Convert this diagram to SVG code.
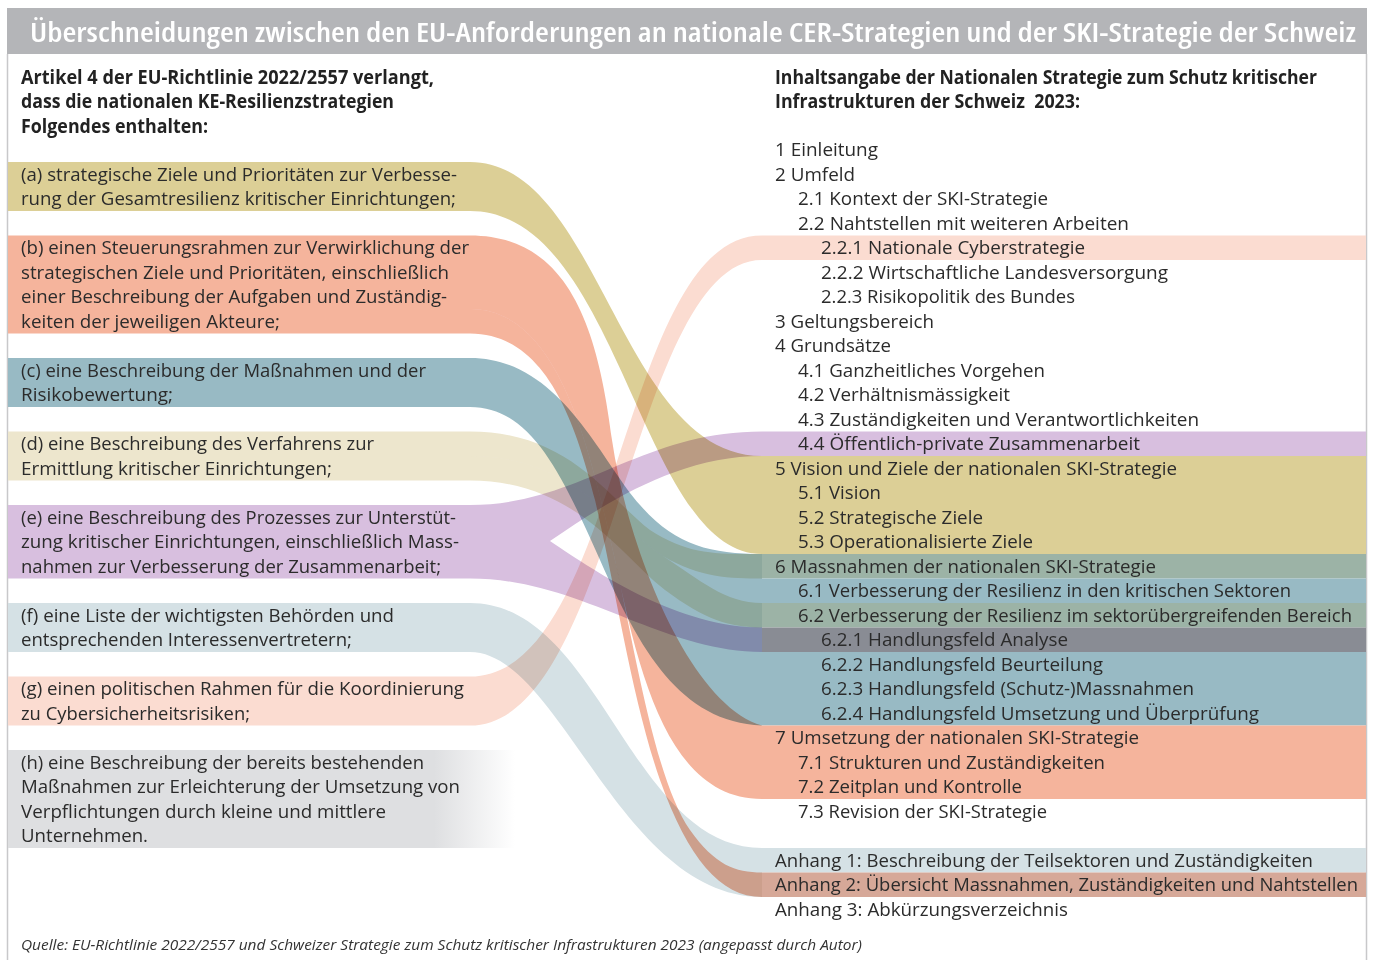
<svg xmlns="http://www.w3.org/2000/svg" width="1373" height="960" viewBox="0 0 1373 960">
  <defs>
    <linearGradient id="fadeGrey" x1="8" y1="0" x2="515" y2="0" gradientUnits="userSpaceOnUse">
      <stop offset="0" stop-color="#dedfe1"/>
      <stop offset="0.84" stop-color="#dedfe1"/>
      <stop offset="1" stop-color="#dedfe1" stop-opacity="0"/>
    </linearGradient>
    <style>
      .txt{font-family:"Open Sans","Liberation Sans",sans-serif;font-size:19px;fill:#2b2b2b}
      .hd{font-weight:700;fill:#222}
      .title{font-family:"Open Sans","Noto Sans","Liberation Sans",sans-serif;font-size:27px;font-weight:600;font-stretch:condensed;fill:#ffffff}
      .src{font-family:"Open Sans","Liberation Sans",sans-serif;font-size:15px;font-style:italic;fill:#333}
      .flow{mix-blend-mode:multiply}
      .khaki{fill:#dccf96}
      .salmon{fill:#f5b49c}
      .teal{fill:#98bac4}
      .beige{fill:#ede6cd}
      .lav{fill:#d8bfdf}
      .bgrey{fill:#d5e1e5}
      .peach{fill:#fbdcd1}
      .green{fill:#9cb3a6}
      .slate{fill:#898c94}
      .rust{fill:#d6a898}
      .frame{stroke:#c8c8ca;stroke-width:1.5;fill:none}
    </style>
  </defs>

  <rect width="1373" height="960" fill="#ffffff"/>

  <!-- title bar and frame -->
  <g id="title">
    <rect x="7" y="8" width="1360" height="46" fill="#b4b5b8"/>
    <text class="title" x="30" y="42" textLength="1326" lengthAdjust="spacingAndGlyphs">Überschneidungen zwischen den EU-Anforderungen an nationale CER-Strategien und der SKI-Strategie der Schweiz</text>
  </g>
  <line class="frame" x1="7.5" y1="54" x2="7.5" y2="960"/>
  <line class="frame" x1="1366.5" y1="54" x2="1366.5" y2="960"/>

  <!-- column headings -->
  <g id="heading-eu">
    <text class="txt hd" x="21" y="83.5" textLength="413" lengthAdjust="spacingAndGlyphs">Artikel 4 der EU-Richtlinie 2022/2557 verlangt,</text>
    <text class="txt hd" x="21" y="108" textLength="373" lengthAdjust="spacingAndGlyphs">dass die nationalen KE-Resilienzstrategien</text>
    <text class="txt hd" x="21" y="132.5" textLength="187" lengthAdjust="spacingAndGlyphs">Folgendes enthalten:</text>
  </g>
  <g id="heading-ch">
    <text class="txt hd" x="775" y="83.5" textLength="542" lengthAdjust="spacingAndGlyphs">Inhaltsangabe der Nationalen Strategie zum Schutz kritischer</text>
    <text class="txt hd" x="775" y="108" textLength="305" lengthAdjust="spacingAndGlyphs" xml:space="preserve">Infrastrukturen der Schweiz  2023:</text>
  </g>

  <!-- connectors: ribbons from the EU requirements to the chapters -->
  <g id="connectors">
    <path id="flow-a" class="flow khaki" d="M470,162 C600,162 620,456 762,456 L762,554 C640,554 620,211 470,211 Z"/>
    <path id="flow-b1" class="flow salmon" d="M470,235.5 C570,235.5 598,330 612,440 C628,550 690,705 762,725.5 L762,799 C670,799 640,680 615,560 C590,450 560,309 470,309 Z"/>
    <path id="flow-b2" class="flow salmon" d="M470,309 C560,309 590,450 615,560 C635,650 655,780 690,830 C715,865 735,872.5 762,872.5 L762,897 C720,897 688,858 660,780 C632,700 615,585 595,500 C575,420 545,333.5 470,333.5 Z"/>
    <path id="flow-c" class="flow teal" d="M470,358 C560,358 600,460 640,505 C675,545 710,554 762,554 L762,725.5 C680,722 640,650 600,560 C560,470 530,407 470,407 Z"/>
    <path id="flow-d1" class="flow beige" d="M470,431.5 C570,431.5 610,500 650,530 C690,556 720,554 762,554 L762,578.5 C730,578.5 700,578 663,556 C615,525 570,456 470,456 Z"/>
    <path id="flow-d2" class="flow beige" d="M470,456 C570,456 615,525 663,556 C700,580 725,603 762,603 L762,627.5 C730,627.5 705,620 665,590 C620,555 575,480.5 470,480.5 Z"/>
    <path id="flow-e1" class="flow lav" d="M470,505 C580,505 640,431.5 762,431.5 L762,456 C680,456 610,500 550,541 L470,541 Z"/>
    <path id="flow-e2" class="flow lav" d="M470,541 L550,541 C600,575 680,627.5 762,627.5 L762,652 C660,652 580,578.5 470,578.5 Z"/>
    <path id="flow-f" class="flow bgrey" d="M470,603 C600,603 630,848 762,848 L762,897 C620,897 560,652 470,652 Z"/>
    <path id="flow-g" class="flow peach" d="M470,676.5 C620,676.5 620,235.5 762,235.5 L762,260 C632,260 615,725.5 470,725.5 Z"/>
  </g>

  <!-- EU requirements (a)–(h) -->
  <g id="req-a">
    <rect class="khaki" x="8" y="162" width="462" height="49"/>
    <text class="txt" x="21" y="180.5" textLength="436" lengthAdjust="spacingAndGlyphs">(a) strategische Ziele und Prioritäten zur Verbesse-</text>
    <text class="txt" x="21" y="205" textLength="435" lengthAdjust="spacingAndGlyphs">rung der Gesamtresilienz kritischer Einrichtungen;</text>
  </g>
  <g id="req-b">
    <rect class="salmon" x="8" y="235.5" width="462" height="98"/>
    <text class="txt" x="21" y="254" textLength="448" lengthAdjust="spacingAndGlyphs">(b) einen Steuerungsrahmen zur Verwirklichung der</text>
    <text class="txt" x="21" y="278.5" textLength="428" lengthAdjust="spacingAndGlyphs">strategischen Ziele und Prioritäten, einschließlich</text>
    <text class="txt" x="21" y="303" textLength="426" lengthAdjust="spacingAndGlyphs">einer Beschreibung der Aufgaben und Zuständig-</text>
    <text class="txt" x="21" y="327.5" textLength="259" lengthAdjust="spacingAndGlyphs">keiten der jeweiligen Akteure;</text>
  </g>
  <g id="req-c">
    <rect class="teal" x="8" y="358" width="462" height="49"/>
    <text class="txt" x="21" y="376.5" textLength="405" lengthAdjust="spacingAndGlyphs">(c) eine Beschreibung der Maßnahmen und der</text>
    <text class="txt" x="21" y="401" textLength="152" lengthAdjust="spacingAndGlyphs">Risikobewertung;</text>
  </g>
  <g id="req-d">
    <rect class="beige" x="8" y="431.5" width="462" height="49"/>
    <text class="txt" x="21" y="450" textLength="353" lengthAdjust="spacingAndGlyphs">(d) eine Beschreibung des Verfahrens zur</text>
    <text class="txt" x="21" y="474.5" textLength="311" lengthAdjust="spacingAndGlyphs">Ermittlung kritischer Einrichtungen;</text>
  </g>
  <g id="req-e">
    <rect class="lav" x="8" y="505" width="462" height="73.5"/>
    <text class="txt" x="21" y="523.5" textLength="435" lengthAdjust="spacingAndGlyphs">(e) eine Beschreibung des Prozesses zur Unterstüt-</text>
    <text class="txt" x="21" y="548" textLength="438" lengthAdjust="spacingAndGlyphs">zung kritischer Einrichtungen, einschließlich Mass-</text>
    <text class="txt" x="21" y="572.5" textLength="420" lengthAdjust="spacingAndGlyphs">nahmen zur Verbesserung der Zusammenarbeit;</text>
  </g>
  <g id="req-f">
    <rect class="bgrey" x="8" y="603" width="462" height="49"/>
    <text class="txt" x="21" y="621.5" textLength="373" lengthAdjust="spacingAndGlyphs">(f) eine Liste der wichtigsten Behörden und</text>
    <text class="txt" x="21" y="646" textLength="331" lengthAdjust="spacingAndGlyphs">entsprechenden Interessenvertretern;</text>
  </g>
  <g id="req-g">
    <rect class="peach" x="8" y="676.5" width="462" height="49"/>
    <text class="txt" x="21" y="695" textLength="443" lengthAdjust="spacingAndGlyphs">(g) einen politischen Rahmen für die Koordinierung</text>
    <text class="txt" x="21" y="719.5" textLength="229" lengthAdjust="spacingAndGlyphs">zu Cybersicherheitsrisiken;</text>
  </g>
  <g id="req-h">
    <rect x="8" y="750" width="507" height="98" fill="url(#fadeGrey)"/>
    <text class="txt" x="21" y="768.5" textLength="403" lengthAdjust="spacingAndGlyphs">(h) eine Beschreibung der bereits bestehenden</text>
    <text class="txt" x="21" y="793" textLength="439" lengthAdjust="spacingAndGlyphs">Maßnahmen zur Erleichterung der Umsetzung von</text>
    <text class="txt" x="21" y="817.5" textLength="365" lengthAdjust="spacingAndGlyphs">Verpflichtungen durch kleine und mittlere</text>
    <text class="txt" x="21" y="842" textLength="127" lengthAdjust="spacingAndGlyphs">Unternehmen.</text>
  </g>

  <!-- table of contents of the Swiss strategy -->
  <g id="toc-1">
    <text class="txt" x="775" y="156" textLength="103" lengthAdjust="spacingAndGlyphs">1 Einleitung</text>
  </g>
  <g id="toc-2">
    <text class="txt" x="775" y="180.5" textLength="80" lengthAdjust="spacingAndGlyphs">2 Umfeld</text>
    <text class="txt" x="798" y="205" textLength="250" lengthAdjust="spacingAndGlyphs">2.1 Kontext der SKI-Strategie</text>
    <text class="txt" x="798" y="229.5" textLength="331" lengthAdjust="spacingAndGlyphs">2.2 Nahtstellen mit weiteren Arbeiten</text>
  </g>
  <g id="toc-2-2-1">
    <rect class="peach" x="762" y="235.5" width="604" height="24.5"/>
    <text class="txt" x="821" y="254" textLength="264" lengthAdjust="spacingAndGlyphs">2.2.1 Nationale Cyberstrategie</text>
  </g>
  <g id="toc-2-2-2">
    <text class="txt" x="821" y="278.5" textLength="347" lengthAdjust="spacingAndGlyphs">2.2.2 Wirtschaftliche Landesversorgung</text>
  </g>
  <g id="toc-2-2-3">
    <text class="txt" x="821" y="303" textLength="254" lengthAdjust="spacingAndGlyphs">2.2.3 Risikopolitik des Bundes</text>
  </g>
  <g id="toc-3">
    <text class="txt" x="775" y="327.5" textLength="159" lengthAdjust="spacingAndGlyphs">3 Geltungsbereich</text>
  </g>
  <g id="toc-4">
    <text class="txt" x="775" y="352" textLength="116" lengthAdjust="spacingAndGlyphs">4 Grundsätze</text>
    <text class="txt" x="798" y="376.5" textLength="247" lengthAdjust="spacingAndGlyphs">4.1 Ganzheitliches Vorgehen</text>
    <text class="txt" x="798" y="401" textLength="212" lengthAdjust="spacingAndGlyphs">4.2 Verhältnismässigkeit</text>
    <text class="txt" x="798" y="425.5" textLength="401" lengthAdjust="spacingAndGlyphs">4.3 Zuständigkeiten und Verantwortlichkeiten</text>
  </g>
  <g id="toc-4-4">
    <rect class="lav" x="762" y="431.5" width="604" height="24.5"/>
    <text class="txt" x="798" y="450" textLength="342" lengthAdjust="spacingAndGlyphs">4.4 Öffentlich-private Zusammenarbeit</text>
  </g>
  <g id="toc-5">
    <rect class="khaki" x="762" y="456" width="604" height="98"/>
    <text class="txt" x="775" y="474.5" textLength="402" lengthAdjust="spacingAndGlyphs">5 Vision und Ziele der nationalen SKI-Strategie</text>
    <text class="txt" x="798" y="499" textLength="83" lengthAdjust="spacingAndGlyphs">5.1 Vision</text>
    <text class="txt" x="798" y="523.5" textLength="185" lengthAdjust="spacingAndGlyphs">5.2 Strategische Ziele</text>
    <text class="txt" x="798" y="548" textLength="235" lengthAdjust="spacingAndGlyphs">5.3 Operationalisierte Ziele</text>
  </g>
  <g id="toc-6">
    <rect class="green" x="762" y="554" width="604" height="24.5"/>
    <text class="txt" x="775" y="572.5" textLength="381" lengthAdjust="spacingAndGlyphs">6 Massnahmen der nationalen SKI-Strategie</text>
  </g>
  <g id="toc-6-1">
    <rect class="teal" x="762" y="578.5" width="604" height="24.5"/>
    <text class="txt" x="798" y="597" textLength="493" lengthAdjust="spacingAndGlyphs">6.1 Verbesserung der Resilienz in den kritischen Sektoren</text>
  </g>
  <g id="toc-6-2">
    <rect class="green" x="762" y="603" width="604" height="24.5"/>
    <text class="txt" x="798" y="621.5" textLength="554" lengthAdjust="spacingAndGlyphs">6.2 Verbesserung der Resilienz im sektorübergreifenden Bereich</text>
  </g>
  <g id="toc-6-2-1">
    <rect class="slate" x="762" y="627.5" width="604" height="24.5"/>
    <text class="txt" x="821" y="646" textLength="247" lengthAdjust="spacingAndGlyphs">6.2.1 Handlungsfeld Analyse</text>
  </g>
  <g id="toc-6-2-2">
    <rect class="teal" x="762" y="652" width="604" height="73.5"/>
    <text class="txt" x="821" y="670.5" textLength="282" lengthAdjust="spacingAndGlyphs">6.2.2 Handlungsfeld Beurteilung</text>
    <text class="txt" x="821" y="695" textLength="373" lengthAdjust="spacingAndGlyphs">6.2.3 Handlungsfeld (Schutz-)Massnahmen</text>
    <text class="txt" x="821" y="719.5" textLength="438" lengthAdjust="spacingAndGlyphs">6.2.4 Handlungsfeld Umsetzung und Überprüfung</text>
  </g>
  <g id="toc-7">
    <rect class="salmon" x="762" y="725.5" width="604" height="73.5"/>
    <text class="txt" x="775" y="744" textLength="364" lengthAdjust="spacingAndGlyphs">7 Umsetzung der nationalen SKI-Strategie</text>
    <text class="txt" x="798" y="768.5" textLength="307" lengthAdjust="spacingAndGlyphs">7.1 Strukturen und Zuständigkeiten</text>
    <text class="txt" x="798" y="793" textLength="224" lengthAdjust="spacingAndGlyphs">7.2 Zeitplan und Kontrolle</text>
  </g>
  <g id="toc-7-3">
    <text class="txt" x="798" y="817.5" textLength="249" lengthAdjust="spacingAndGlyphs">7.3 Revision der SKI-Strategie</text>
  </g>
  <g id="toc-anhang-1">
    <rect class="bgrey" x="762" y="848" width="604" height="24.5"/>
    <text class="txt" x="775" y="866.5" textLength="538" lengthAdjust="spacingAndGlyphs">Anhang 1: Beschreibung der Teilsektoren und Zuständigkeiten</text>
  </g>
  <g id="toc-anhang-2">
    <rect class="rust" x="762" y="872.5" width="604" height="24.5"/>
    <text class="txt" x="775" y="891" font-size="18" textLength="583" lengthAdjust="spacingAndGlyphs" style="font-size:18px">Anhang 2: Übersicht Massnahmen, Zuständigkeiten und Nahtstellen</text>
  </g>
  <g id="toc-anhang-3">
    <text class="txt" x="775" y="915.5" textLength="293" lengthAdjust="spacingAndGlyphs">Anhang 3: Abkürzungsverzeichnis</text>
  </g>

  <!-- source line -->
  <text class="src" x="21" y="950" textLength="841" lengthAdjust="spacingAndGlyphs">Quelle: EU-Richtlinie 2022/2557 und Schweizer Strategie zum Schutz kritischer Infrastrukturen 2023 (angepasst durch Autor)</text>
</svg>
